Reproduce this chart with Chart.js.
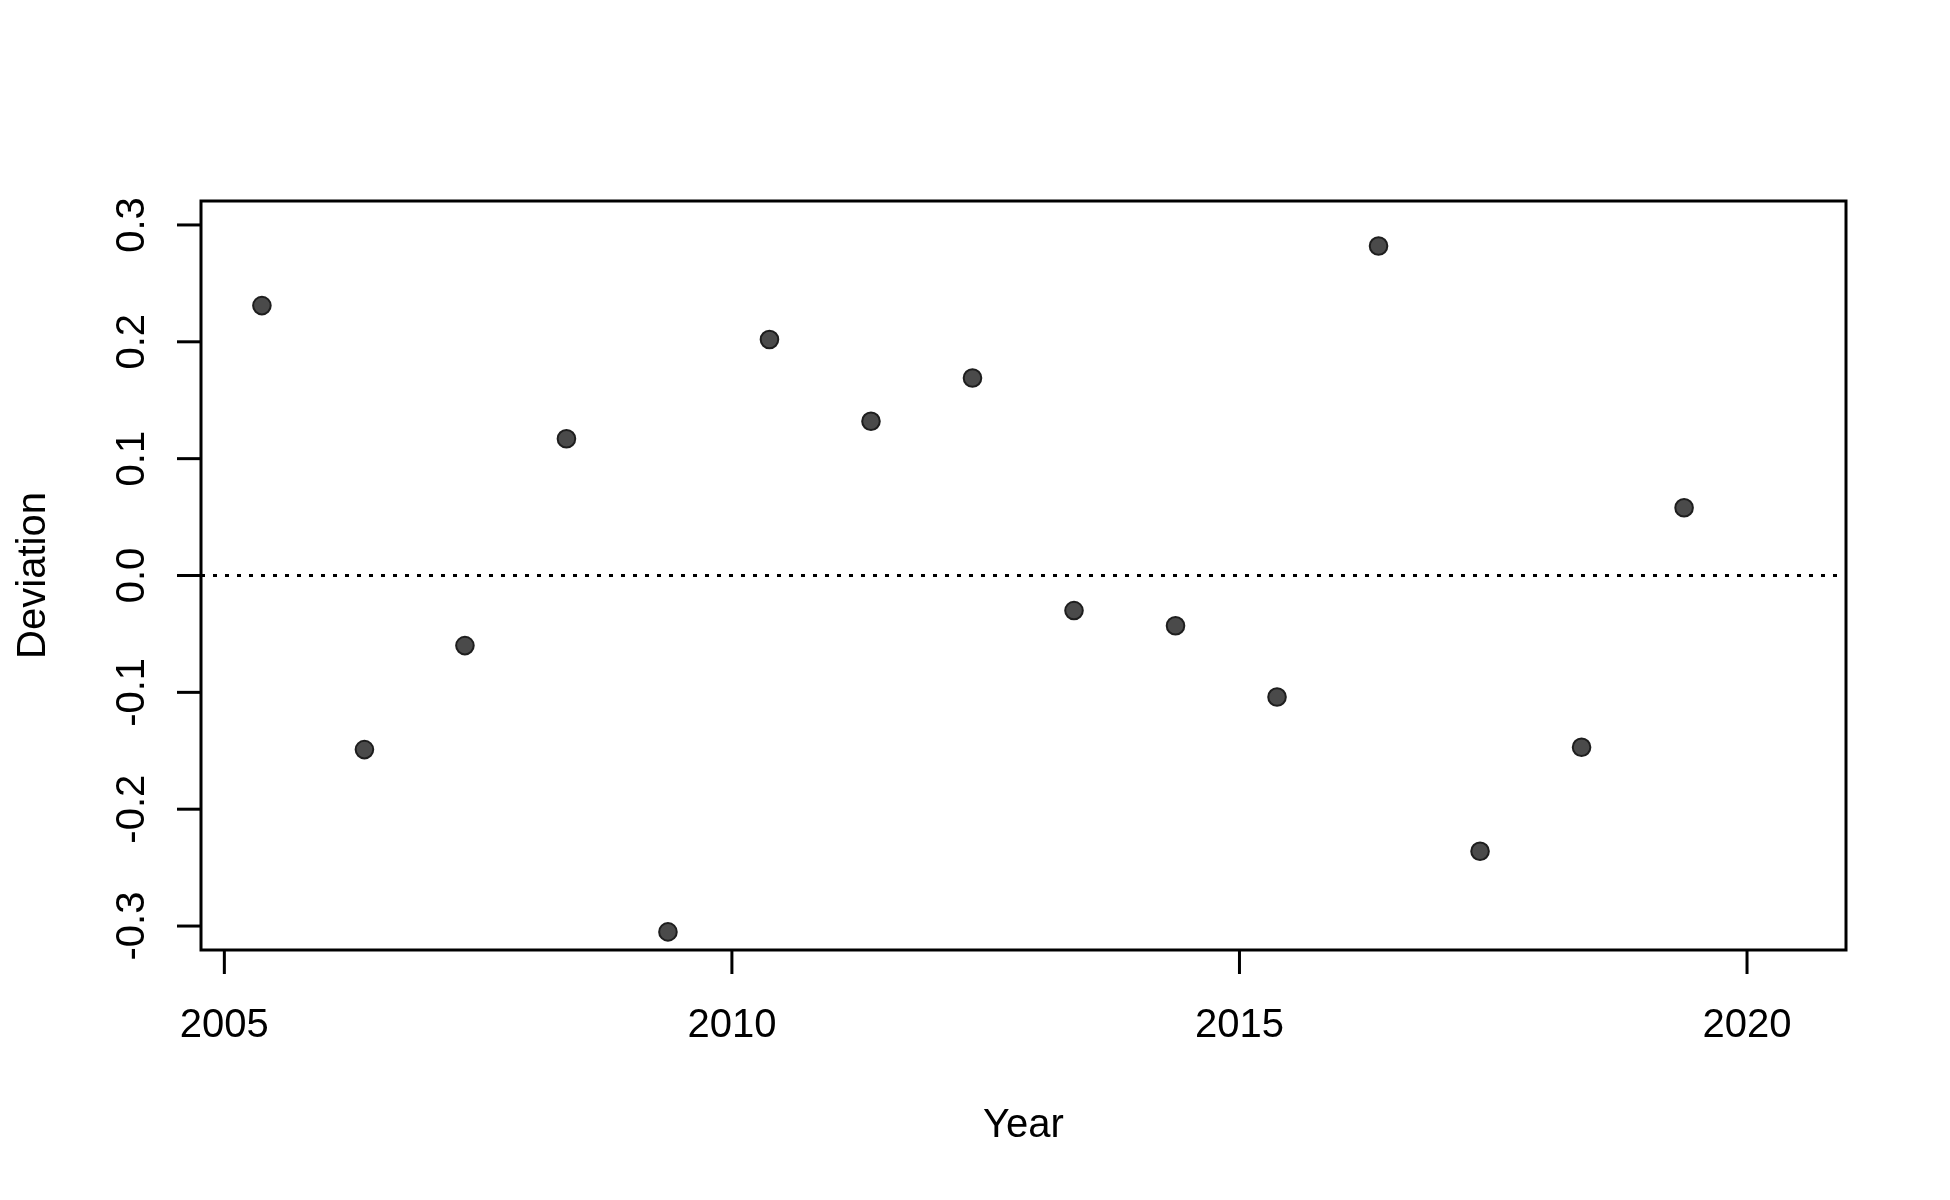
<!DOCTYPE html>
<html>
<head>
<meta charset="utf-8">
<script src="https://cdn.jsdelivr.net/npm/chart.js@4/dist/chart.umd.min.js"></script>
<style>
  html, body { margin: 0; padding: 0; background: #ffffff; }
  #wrap { width: 1950px; height: 1200px; }
</style>
</head>
<body>
<div id="wrap"><canvas id="c" width="1950" height="1200"></canvas></div>
<script>
// ---- data ----
const years = [2005.37, 2006.38, 2007.37, 2008.37, 2009.37, 2010.37, 2011.37, 2012.37,
               2013.37, 2014.37, 2015.37, 2016.37, 2017.37, 2018.37, 2019.38];
const deviation = [0.231, -0.149, -0.060, 0.117, -0.305, 0.202, 0.132, 0.169,
                   -0.030, -0.043, -0.104, 0.282, -0.236, -0.147, 0.058];
const xTicks = [2005, 2010, 2015, 2020];
const yTicks = [-0.3, -0.2, -0.1, 0.0, 0.1, 0.2, 0.3];
const yTickLabels = ["-0.3", "-0.2", "-0.1", "0.0", "0.1", "0.2", "0.3"];
const xTitle = "Year";
const yTitle = "Deviation";
const refLine = 0;

const FONT = '40px Arial, "Liberation Sans", sans-serif';

const points = years.map((y, i) => ({ x: y, y: deviation[i] }));

const basePlot = {
  id: 'basePlot',
  beforeDatasetsDraw(chart) {
    const { ctx, chartArea: a, scales } = chart;
    const y0 = scales.y.getPixelForValue(refLine);
    ctx.save();
    ctx.strokeStyle = '#000';
    ctx.lineWidth = 3;
    ctx.setLineDash([4, 8]);
    ctx.beginPath();
    ctx.moveTo(a.left, y0);
    ctx.lineTo(a.right, y0);
    ctx.stroke();
    ctx.restore();
  },
  afterDatasetsDraw(chart) {
    const { ctx, chartArea: a, scales } = chart;
    ctx.save();
    ctx.strokeStyle = '#000';
    ctx.lineWidth = 3;
    ctx.setLineDash([]);
    ctx.strokeRect(a.left, a.top, a.right - a.left, a.bottom - a.top);
    ctx.fillStyle = '#000';
    ctx.font = FONT;
    ctx.textAlign = 'center';
    ctx.textBaseline = 'alphabetic';
    xTicks.forEach(t => {
      const px = scales.x.getPixelForValue(t);
      ctx.beginPath();
      ctx.moveTo(px, a.bottom);
      ctx.lineTo(px, a.bottom + 24);
      ctx.stroke();
      ctx.fillText(String(t), px, 1037);
    });
    yTicks.forEach((t, i) => {
      const py = scales.y.getPixelForValue(t);
      ctx.beginPath();
      ctx.moveTo(a.left, py);
      ctx.lineTo(a.left - 24, py);
      ctx.stroke();
      ctx.save();
      ctx.translate(143.5, py);
      ctx.rotate(-Math.PI / 2);
      ctx.fillText(yTickLabels[i], 0, 0);
      ctx.restore();
    });
    ctx.fillText(xTitle, (a.left + a.right) / 2, 1137);
    ctx.save();
    ctx.translate(45, (a.top + a.bottom) / 2);
    ctx.rotate(-Math.PI / 2);
    ctx.fillText(yTitle, 0, 0);
    ctx.restore();
    ctx.restore();
  }
};

new Chart(document.getElementById('c'), {
  type: 'scatter',
  data: {
    datasets: [{
      data: points,
      pointRadius: 8.8,
      pointHoverRadius: 8.8,
      pointBackgroundColor: '#4a4a4a',
      pointBorderColor: '#1e1e1e',
      pointBorderWidth: 2
    }]
  },
  options: {
    responsive: false,
    animation: false,
    devicePixelRatio: 1,
    layout: { padding: { left: 201, top: 201, right: 104, bottom: 250 } },
    plugins: { legend: { display: false }, tooltip: { enabled: false } },
    events: [],
    scales: {
      x: { type: 'linear', min: 2004.77, max: 2020.975, display: false },
      y: { type: 'linear', min: -0.3205, max: 0.3205, display: false }
    }
  },
  plugins: [basePlot]
});
</script>
</body>
</html>
